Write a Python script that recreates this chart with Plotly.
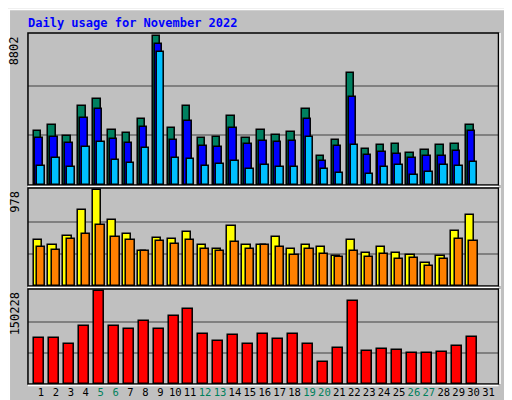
import plotly.graph_objects as go

days = list(range(1, 32))
hits = [3186, 3545, 2888, 4680, 5058, 3246, 3067, 3903, 8802, 3365, 4680, 2768, 2828, 4082, 2768,
        3246, 2947, 3127, 4501, 1693, 2649, 6592, 2111, 2350, 2410, 1872, 2051, 2350, 2410, 3545]
files = [2768, 2848, 2469, 3983, 4461, 2708, 2469, 3445, 8324, 2649, 3784, 2290, 2230, 3365, 2410,
         2589, 2529, 2589, 3903, 1394, 2290, 5217, 1752, 1932, 1812, 1573, 1693, 1693, 1991, 3186]
pages = [1115, 1573, 1036, 2230, 2529, 1454, 1274, 2171, 7846, 1573, 1513, 1095, 1215, 1394, 916,
         1155, 1036, 1036, 2828, 916, 737, 2350, 677, 1036, 1155, 617, 797, 1155, 1095, 1334]
visits = [466, 413, 508, 777, 978, 667, 530, 360, 487, 477, 551, 413, 381, 614, 413,
          413, 498, 381, 413, 402, 307, 466, 339, 402, 339, 318, 233, 307, 561, 720]
sites = [402, 371, 477, 530, 625, 498, 466, 360, 455, 424, 466, 381, 360, 445, 381,
         413, 402, 318, 381, 328, 297, 360, 297, 328, 275, 286, 201, 275, 477, 455]
kbytes = [74296, 74296, 64461, 93962, 150228, 93962, 89044, 102155, 89044, 110350, 120182, 80850,
          69378, 79212, 64461, 80850, 72657, 80850, 64461, 34962, 57906, 133840, 52990, 56268,
          54628, 49712, 49712, 51351, 61184, 75935]
weekend = [5, 6, 12, 13, 19, 20, 26, 27]

d = days[:30]
ln = dict(color="black", width=1.5)
fig = go.Figure()
fig.add_trace(go.Bar(x=d, y=hits, marker=dict(color="#008060", line=ln), offset=-0.5, width=0.5, xaxis="x", yaxis="y"))
fig.add_trace(go.Bar(x=d, y=files, marker=dict(color="#0000FF", line=ln), offset=-0.38, width=0.5, xaxis="x", yaxis="y"))
fig.add_trace(go.Bar(x=d, y=pages, marker=dict(color="#00C0FF", line=ln), offset=-0.24, width=0.5, xaxis="x", yaxis="y"))
fig.add_trace(go.Bar(x=d, y=visits, marker=dict(color="#FFFF00", line=ln), offset=-0.5, width=0.55, xaxis="x2", yaxis="y2"))
fig.add_trace(go.Bar(x=d, y=sites, marker=dict(color="#FF8000", line=ln), offset=-0.28, width=0.55, xaxis="x2", yaxis="y2"))
fig.add_trace(go.Bar(x=d, y=kbytes, marker=dict(color="#FF0000", line=ln), offset=-0.45, width=0.67, xaxis="x3", yaxis="y3"))

ticktext = [f"<span style='color:#00805C'>{x}</span>" if x in weekend else str(x) for x in days]
xr = [0.13, 31.67]
xdom = [0.039, 0.958]
common_x = dict(range=xr, domain=xdom, showgrid=False, zeroline=False, showline=False)
mono = "DejaVu Sans Mono"

def yax(mx, dom):
    return dict(range=[0, mx * 1.02], domain=dom, tickvals=[mx / 3, 2 * mx / 3], showticklabels=False,
                showgrid=True, gridcolor="#808080", gridwidth=1.5, zeroline=False, ticks="")

fig.update_layout(
    width=512, height=400, margin=dict(l=0, r=0, t=0, b=0),
    paper_bgcolor="#C0C0C0", plot_bgcolor="#C0C0C0", showlegend=False,
    barmode="overlay", bargap=0,
    font=dict(family=mono, size=11, color="black"),
    xaxis=dict(**common_x, anchor="y", showticklabels=False),
    xaxis2=dict(**common_x, anchor="y2", showticklabels=False),
    xaxis3=dict(**common_x, anchor="y3", tickvals=days, ticktext=ticktext, ticks="", tickangle=0,
                tickfont=dict(family=mono, size=10.5)),
    yaxis=yax(max(hits), [0.5575, 0.9375]),
    yaxis2=yax(max(visits), [0.305, 0.55]),
    yaxis3=yax(max(kbytes), [0.06, 0.2975]),
)
for r in [(0.5575, 0.9375), (0.305, 0.55), (0.06, 0.2975)]:
    fig.add_shape(type="rect", xref="paper", yref="paper", x0=xdom[0], x1=xdom[1], y0=r[0], y1=r[1],
                  line=dict(color="black", width=1.5))
    fig.add_shape(type="line", xref="paper", yref="paper", x0=xdom[0], x1=xdom[1], y0=r[0] - 0.004, y1=r[0] - 0.004,
                  line=dict(color="white", width=1.5))
    fig.add_shape(type="line", xref="paper", yref="paper", x0=xdom[1] + 0.003, x1=xdom[1] + 0.003, y0=r[0], y1=r[1],
                  line=dict(color="white", width=1.5))
# outer frame
fig.add_shape(type="rect", xref="paper", yref="paper", x0=0.002, x1=0.985, y0=0.008, y1=0.997,
              line=dict(color="white", width=2), layer="below")
fig.add_shape(type="line", xref="paper", yref="paper", x0=0.993, x1=0.993, y0=0, y1=1,
              line=dict(color="#808080", width=6), layer="below")
fig.add_shape(type="line", xref="paper", yref="paper", x0=0, x1=1, y0=0.004, y1=0.004,
              line=dict(color="#808080", width=4), layer="below")

fig.add_annotation(text="<b>Daily usage for November 2022</b>", xref="paper", yref="paper", x=0.035, y=0.985,
                   xanchor="left", yanchor="top", showarrow=False, font=dict(color="#0000FF", size=12, family=mono))
for lbl, ytop in [("8802", 0.935), ("978", 0.548), ("150228", 0.295)]:
    fig.add_annotation(text=lbl, textangle=-90, xref="paper", yref="paper", x=0.031, y=ytop,
                       xanchor="right", yanchor="top", showarrow=False, font=dict(size=12, family=mono))
right = [
    ("<span style='color:#00C0FF'>Pages</span> / <span style='color:#0000FF'>Files</span> / <span style='color:#008060'>Hits</span>", 0.747),
    ("<span style='color:#FF8000'>Sites</span> / <span style='color:#C8C800'>Visits</span>", 0.4275),
    ("<span style='color:#FF0000'>KBytes</span>", 0.179),
]
for t, yc in right:
    fig.add_annotation(text=t, textangle=-90, xref="paper", yref="paper", x=0.966, y=yc,
                       xanchor="left", yanchor="middle", showarrow=False, font=dict(size=11, family=mono))

fig.write_html("out.html")
